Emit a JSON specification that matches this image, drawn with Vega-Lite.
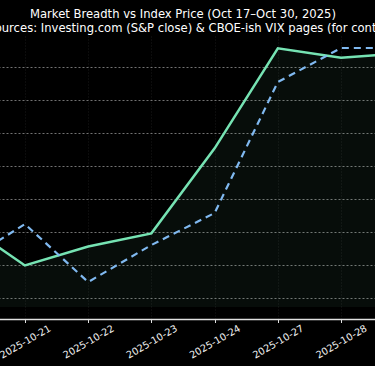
{
  "$schema": "https://vega.github.io/schema/vega-lite/v6.json",
  "width": 626,
  "height": 283,
  "autosize": {"type": "none"},
  "padding": {"left": -130, "right": -121, "top": 36, "bottom": 47},
  "background": "#000000",
  "title": {
    "text": "Market Breadth vs Index Price (Oct 17–Oct 30, 2025)",
    "subtitle": "\u2800\u2800\u00a0Sources: Investing.com (S&P close) & CBOE-ish VIX pages (for context)",
    "anchor": "middle",
    "font": "DejaVu Sans",
    "fontSize": 11.6,
    "fontWeight": "normal",
    "color": "#ffffff",
    "subtitleFont": "DejaVu Sans",
    "subtitleFontSize": 11.6,
    "subtitleColor": "#ffffff",
    "subtitlePadding": 3,
    "offset": 1
  },
  "data": {
    "values": [
      {"date": "2025-10-17", "breadth": 52.6, "index": 6677.3},
      {"date": "2025-10-20", "breadth": 54.0, "index": 6701.5},
      {"date": "2025-10-21", "breadth": 49.4, "index": 6762.1},
      {"date": "2025-10-22", "breadth": 51.4, "index": 6674.2},
      {"date": "2025-10-23", "breadth": 52.8, "index": 6730.3},
      {"date": "2025-10-24", "breadth": 61.8, "index": 6778.8},
      {"date": "2025-10-27", "breadth": 72.4, "index": 6977.3},
      {"date": "2025-10-28", "breadth": 71.4, "index": 7028.8},
      {"date": "2025-10-29", "breadth": 71.9, "index": 7028.8},
      {"date": "2025-10-30", "breadth": 71.2, "index": 7010.6}
    ]
  },
  "encoding": {
    "x": {
      "field": "date",
      "type": "ordinal",
      "scale": {"type": "point", "padding": 0.45},
      "axis": {
        "title": null,
        "labelAngle": -30,
        "labelAlign": "center",
        "labelBaseline": "middle",
        "labelPadding": 19,
        "labelFont": "DejaVu Sans",
        "labelFontSize": 9.8,
        "labelColor": "#f0f0f0",
        "domainColor": "#e0e0e0",
        "domainWidth": 1.4,
        "tickColor": "#e0e0e0",
        "tickSize": 3.5,
        "tickWidth": 1,
        "grid": true,
        "gridColor": "#202020",
        "gridDash": [1, 2],
        "gridWidth": 0.8
      }
    }
  },
  "layer": [
    {
      "layer": [
        {
          "mark": {"type": "area", "color": "#74e4b2", "opacity": 0.06},
          "encoding": {
            "y": {
              "field": "breadth",
              "type": "quantitative",
              "scale": {"domain": [43.73, 73.7], "zero": false, "nice": false},
              "axis": null
            },
            "y2": {"datum": 45}
          }
        },
        {
          "mark": {"type": "line", "color": "#76e3b3", "strokeWidth": 2.5},
          "encoding": {
            "y": {
              "field": "breadth",
              "type": "quantitative",
              "scale": {"domain": [43.73, 73.7], "zero": false, "nice": false},
              "axis": {
                "orient": "left",
                "title": null,
                "labels": false,
                "ticks": false,
                "domain": false,
                "grid": true,
                "gridColor": "#1e1e1e",
                "gridDash": [1, 2],
                "gridWidth": 0.8,
                "values": [45, 50, 55, 60, 65, 70]
              }
            }
          }
        }
      ]
    },
    {
      "mark": {"type": "line", "color": "#80b9f0", "strokeWidth": 2.2, "strokeDash": [7, 5]},
      "encoding": {
        "y": {
          "field": "index",
          "type": "quantitative",
          "scale": {"domain": [6618.2, 7047], "zero": false, "nice": false},
          "axis": {
            "orient": "right",
            "title": null,
            "labels": false,
            "ticks": false,
            "domain": false,
            "grid": true,
            "gridColor": "#8f8f8f",
            "gridDash": [2, 2],
            "gridWidth": 0.8,
            "values": [6650, 6700, 6750, 6800, 6850, 6900, 6950, 7000]
          }
        }
      }
    }
  ],
  "resolve": {"scale": {"y": "independent"}},
  "config": {"view": {"stroke": null}}
}
